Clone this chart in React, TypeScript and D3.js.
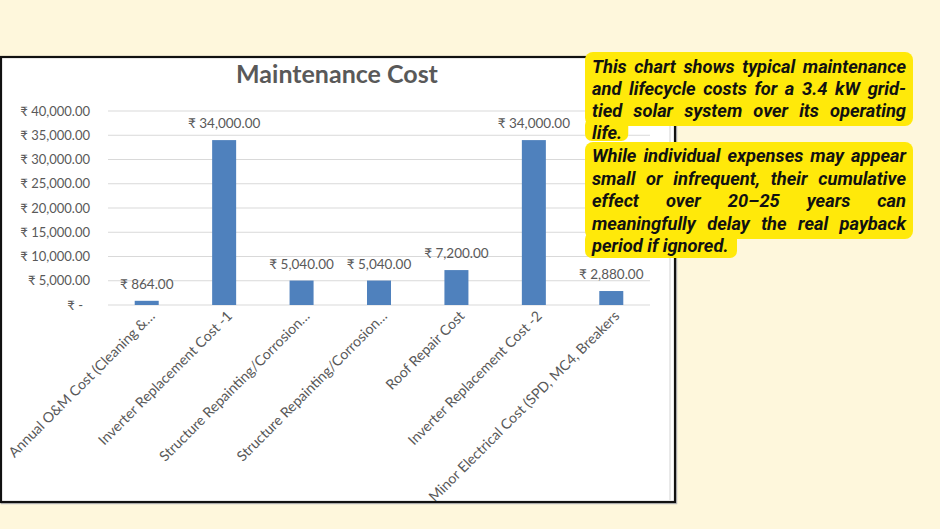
import { useEffect, useRef } from "react";
import * as d3 from "d3";

const categories = [
  "Annual O&M Cost (Cleaning &…",
  "Inverter Replacement Cost -1",
  "Structure Repainting/Corrosion…",
  "Structure Repainting/Corrosion…",
  "Roof Repair Cost",
  "Inverter Replacement Cost -2",
  "Minor Electrical Cost (SPD, MC4, Breakers",
];
const costs = [864, 34000, 5040, 5040, 7200, 34000, 2880];
const yTicks = [0, 5000, 10000, 15000, 20000, 25000, 30000, 35000, 40000];

const noteP1 = [
  "This chart shows typical maintenance",
  "and lifecycle costs for a 3.4 kW grid-",
  "tied solar system over its operating",
  "life.",
];
const noteP2 = [
  "While individual expenses may appear",
  "small or infrequent, their cumulative",
  "effect over 20–25 years can",
  "meaningfully delay the real payback",
  "period if ignored.",
];

const W = 940;
const H = 529;
const chartFont = "Lato, 'Noto Sans', sans-serif";
const noteFont = "Roboto, 'Open Sans', sans-serif";

const rupee = (v: number) => (v === 0 ? "₹ -" : "₹ " + d3.format(",.2f")(v));

export default function App() {
  const ref = useRef<SVGSVGElement>(null);

  useEffect(() => {
    const svg = d3.select(ref.current);
    svg.selectAll("*").remove();

    svg.append("rect").attr("width", W).attr("height", H).attr("fill", "#FEF7DC");

    // chart card
    svg.append("defs").append("clipPath").attr("id", "card")
      .append("rect").attr("x", 2).attr("y", 57).attr("width", 673).attr("height", 444);
    svg.append("rect")
      .attr("x", 1.5).attr("y", 57.5).attr("width", 675).attr("height", 446)
      .attr("fill", "none").attr("stroke", "#bbb").attr("stroke-width", 1.5);
    svg.append("rect")
      .attr("x", 1).attr("y", 57).attr("width", 674).attr("height", 445)
      .attr("fill", "#fff").attr("stroke", "#111").attr("stroke-width", 2.2);

    const g = svg.append("g").attr("clip-path", "url(#card)");

    const x = d3.scaleBand<number>()
      .domain(d3.range(categories.length))
      .range([108, 650])
      .paddingInner(0.69)
      .paddingOuter(0.345);
    const y = d3.scaleLinear().domain([0, 40000]).range([305, 111]);

    // faint leftover edge line
    g.append("line")
      .attr("x1", 670).attr("x2", 670).attr("y1", 120).attr("y2", 500)
      .attr("stroke", "#e2e2e2").attr("stroke-width", 1.5);

    g.selectAll(".grid")
      .data(yTicks)
      .enter()
      .append("line")
      .attr("x1", 108).attr("x2", 650)
      .attr("y1", (d) => y(d)).attr("y2", (d) => y(d))
      .attr("stroke", "#D9D9D9").attr("stroke-width", 1.2);

    // y axis
    const yAxis = g.append("g")
      .attr("transform", "translate(108,0)")
      .call(d3.axisLeft(y).tickValues(yTicks).tickSize(0).tickPadding(18).tickFormat((d: any) => rupee(+d)));
    yAxis.select(".domain").remove();
    yAxis.selectAll("text")
      .attr("font-family", chartFont)
      .attr("font-size", 13)
      .attr("fill", "#595959")
      .attr("dx", (d: any) => (d === 0 ? -7 : 0));

    // bars
    g.selectAll(".bar")
      .data(costs)
      .enter()
      .append("rect")
      .attr("x", (_d, i) => x(i)!)
      .attr("width", x.bandwidth())
      .attr("y", (d) => y(d))
      .attr("height", (d) => y(0) - y(d))
      .attr("fill", "#4F81BD");

    // value labels
    g.selectAll(".val")
      .data(costs)
      .enter()
      .append("text")
      .attr("x", (_d, i) => x(i)! + x.bandwidth() / 2)
      .attr("y", (d) => y(d) - 12)
      .attr("text-anchor", "middle")
      .attr("font-family", chartFont)
      .attr("font-size", 13.5)
      .attr("fill", "#595959")
      .text((d) => rupee(d));

    // category labels
    g.selectAll(".cat")
      .data(categories)
      .enter()
      .append("text")
      .attr("transform", (_d, i) => `translate(${x(i)! + x.bandwidth() / 2 + 9},${317}) rotate(-45)`)
      .attr("text-anchor", "end")
      .attr("font-family", chartFont)
      .attr("font-size", 14.2)
      .attr("fill", "#595959")
      .text((d) => d);

    // title
    g.append("text")
      .attr("x", 337).attr("y", 83)
      .attr("text-anchor", "middle")
      .attr("font-family", chartFont)
      .attr("font-size", 25)
      .attr("font-weight", 700)
      .attr("fill", "#595959")
      .text("Maintenance Cost");

    // note with highlight
    const note = svg.append("g");
    const yellow = "#FFE90A";
    const left = 592;
    const right = 906;
    let fs = 16;

    const measure = (s: string) => {
      const t = note.append("text")
        .attr("font-family", noteFont).attr("font-size", fs)
        .attr("font-weight", 700).attr("font-style", "italic")
        .text(s);
      const w = (t.node() as SVGTextElement).getComputedTextLength();
      t.remove();
      return w;
    };
    // fit font so the first line sets naturally across the column
    fs = Math.min(18.3, (16 * (right - left - 6)) / measure(noteP1[0]));
    const space = measure("a a") - measure("aa");

    const lifeW = measure("life.");
    const periodW = measure("period if ignored.");

    note.append("rect").attr("x", 585).attr("y", 52).attr("width", 328).attr("height", 74).attr("rx", 8).attr("fill", yellow);
    note.append("rect").attr("x", 585).attr("y", 118).attr("width", Math.max(43, lifeW + 13)).attr("height", 23).attr("rx", 7).attr("fill", yellow);
    note.append("rect").attr("x", 585).attr("y", 142).attr("width", 328).attr("height", 97).attr("rx", 8).attr("fill", yellow);
    note.append("rect").attr("x", 585).attr("y", 232).attr("width", Math.max(152, periodW + 14)).attr("height", 26).attr("rx", 7).attr("fill", yellow);

    const drawLines = (lines: string[], baselines: number[]) => {
      lines.forEach((line, li) => {
        const words = line.split(" ");
        const last = li === lines.length - 1;
        const widths = words.map(measure);
        const total = d3.sum(widths);
        const gap = last || words.length < 2 ? space : (right - left - total) / (words.length - 1);
        let cx = left;
        words.forEach((w, wi) => {
          note.append("text")
            .attr("x", cx).attr("y", baselines[li])
            .attr("font-family", noteFont).attr("font-size", fs)
            .attr("font-weight", 700).attr("font-style", "italic")
            .attr("fill", "#111")
            .text(w);
          cx += widths[wi] + gap;
        });
      });
    };
    drawLines(noteP1, [73, 95, 117, 139]);
    drawLines(noteP2, [162, 184.5, 207, 229.5, 252]);
  }, []);

  return (
    <svg
      ref={ref}
      width={W}
      height={H}
      style={{ position: "absolute", left: 0, top: 0, display: "block" }}
    />
  );
}
